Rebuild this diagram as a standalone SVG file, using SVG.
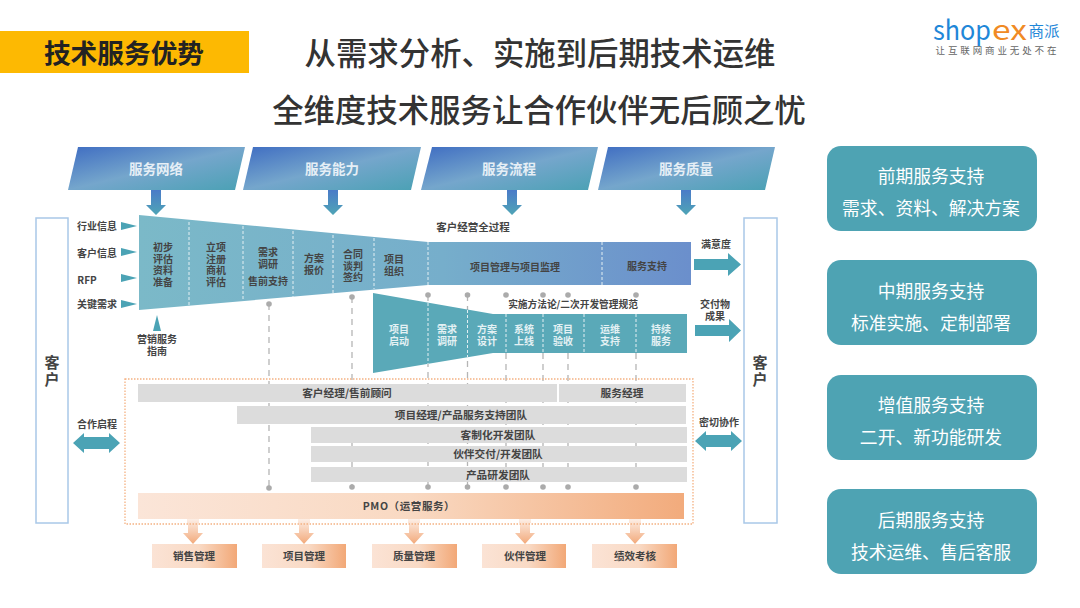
<svg xmlns="http://www.w3.org/2000/svg" width="1080" height="608" viewBox="0 0 1080 608">
<style>
text{font-family:"Noto Sans CJK SC","Liberation Sans",sans-serif;text-anchor:middle;dominant-baseline:central}
.l{font-size:10px;font-weight:700;fill:#444}
.w{font-size:10px;font-weight:700;fill:#e4f1f4}
.m{font-size:10.5px;font-weight:700;fill:#444}
.r{font-size:10.7px;font-weight:700;fill:#444}
.b{font-size:13.5px;font-weight:700;fill:#e6eff6}
.c{font-size:15px;font-weight:700;fill:#444}
.t{font-size:31.4px;font-weight:500;fill:#333}
.k{font-size:17.8px;fill:#fff}
.sep{stroke:#e3eff3;stroke-width:1;stroke-dasharray:3 2;fill:none}
.dl{stroke:#b5b5b5;stroke-width:1.300;stroke-dasharray:6 5;fill:none}
.dot{fill:#ababab}
.bar{fill:#dcdcdc}
.client{fill:#fff;stroke:#a9c8e8;stroke-width:1.500}
.card{fill:#4ea3b3}
.teal{fill:#4ba3b5}
.dn{fill:url(#gDown)}
.od{fill:url(#gOD)}
.bx{fill:url(#gBox)}
.ban{fill:url(#gBan)}
</style>
<defs>
<linearGradient id="gBan" x1="0" y1="0" x2="1" y2="1"><stop offset="0" stop-color="#3f6dc2"/><stop offset=".5" stop-color="#75a6cc"/><stop offset="1" stop-color="#4aa1b4"/></linearGradient>
<linearGradient id="gDown" x1="0" y1="0" x2="0" y2="1"><stop offset="0" stop-color="#4a7bc8"/><stop offset="1" stop-color="#4fa5b6"/></linearGradient>
<linearGradient id="gF1" x1="0" y1="0" x2="1" y2="0"><stop offset="0" stop-color="#7bb9c8"/><stop offset=".55" stop-color="#76aecb"/><stop offset="1" stop-color="#6b8fcc"/></linearGradient>
<linearGradient id="gPmo" x1="0" y1="0" x2="1" y2="0"><stop offset="0" stop-color="#fbe5d8"/><stop offset=".5" stop-color="#f9d9c2"/><stop offset="1" stop-color="#f2ab7c"/></linearGradient>
<linearGradient id="gBox" x1="0" y1="0" x2="1" y2="0"><stop offset="0" stop-color="#fbe3d5"/><stop offset=".55" stop-color="#f9dac5"/><stop offset="1" stop-color="#f2a877"/></linearGradient>
<linearGradient id="gOD" x1="0" y1="0" x2="0" y2="1"><stop offset="0" stop-color="#fdf1ea"/><stop offset="1" stop-color="#f2a97a"/></linearGradient>
</defs>
<rect width="1080" height="608" fill="#fff"/>

<g id="header">
<rect x="0" y="31" width="249" height="42" fill="#fdb902"/>
<text x="124" y="51" font-size="26.700" font-weight="700" fill="#222">技术服务优势</text>
<text class="t" x="540" y="51">从需求分析、实施到后期技术运维</text>
<text class="t" x="539" y="108">全维度技术服务让合作伙伴无后顾之忧</text>
</g>

<g id="logo">
<text x="933" y="28" style="text-anchor:start" font-size="27" fill="#1f87d8" textLength="58" lengthAdjust="spacingAndGlyphs">shop</text>
<text x="992" y="28" style="text-anchor:start" font-size="27" fill="#f08a24" textLength="35" lengthAdjust="spacingAndGlyphs">ex</text>
<text x="1044" y="30" font-size="15.500" fill="#1f87d8">商派</text>
<text x="996" y="50" font-size="9.500" fill="#666" textLength="121">让互联网商业无处不在</text>
</g>

<g id="connectors">
<path class="dl" d="M269 304V487M352 297V487M428 295V487M467.500 295V487M506 353V487M543 353V487M568 353V487M636 353V487"/>
<g class="dot">
<circle cx="269" cy="304" r="2.800"/><circle cx="352" cy="297" r="2.800"/><circle cx="428" cy="295" r="2.800"/><circle cx="467.500" cy="295" r="2.800"/><circle cx="506" cy="295" r="2.800"/><circle cx="543" cy="295" r="2.800"/><circle cx="568" cy="295" r="2.800"/><circle cx="636" cy="295" r="2.800"/>
<circle cx="269" cy="488" r="2.800"/><circle cx="352" cy="487" r="2.800"/><circle cx="428" cy="487" r="2.800"/><circle cx="467.500" cy="487" r="2.800"/><circle cx="506" cy="487" r="2.800"/><circle cx="543" cy="487" r="2.800"/><circle cx="568" cy="487" r="2.800"/><circle cx="636" cy="487" r="2.800"/>
</g>
<g class="dn">
<path d="M151 190H161V205H166L156 215L146 205H151Z"/>
<path d="M328 190H338V205H343L333 215L323 205H328Z"/>
<path d="M507 190H517V205H522L512 215L502 205H507Z"/>
<path d="M681 190H691V205H696L686 215L676 205H681Z"/>
</g>
<g class="teal">
<path d="M121 222L137 226L121 230Z"/>
<path d="M121 248L137 252L121 256Z"/>
<path d="M121 274L137 278L121 282Z"/>
<path d="M121 300L137 304L121 308Z"/>
<path d="M153 331L157 315L161 331Z"/>
<path d="M694 259H728V253L741 264.500L728 276V270H694Z"/>
<path d="M695 325H729V319L741 330.500L729 342V336H695Z"/>
<path d="M73 443L84 433V437H109V433L120 443L109 453V449H84V453Z"/>
<path d="M695 441L706 431V435H731V431L742 441L731 451V447H706V451Z"/>
</g>
<g class="od">
<path d="M187 518H199V523H198V533H203L193 544L183 533H188V523H187Z"/>
<path d="M298 518H310V523H309V533H314L304 544L294 533H299V523H298Z"/>
<path d="M408 518H420V523H419V533H424L414 544L404 533H409V523H408Z"/>
<path d="M519 518H531V523H530V533H535L525 544L515 533H520V523H519Z"/>
<path d="M629 518H641V523H640V533H645L635 544L625 533H630V523H629Z"/>
</g>
</g>

<g id="banners">
<g id="banner1"><path class="ban" d="M78 147H245L235 190H68Z"/><text class="b" x="156" y="168">服务网络</text></g>
<g id="banner2"><path class="ban" d="M253 147H421L411 190H243Z"/><text class="b" x="332" y="168">服务能力</text></g>
<g id="banner3"><path class="ban" d="M432 147H598L588 190H421Z"/><text class="b" x="509" y="168">服务流程</text></g>
<g id="banner4"><path class="ban" d="M608 147H775L765 190H598Z"/><text class="b" x="686" y="168">服务质量</text></g>
</g>

<g id="client-left"><rect class="client" x="36" y="218" width="32" height="305"/><text class="c" y="361"><tspan x="52">客</tspan><tspan x="52" dy="17">户</tspan></text></g>
<g id="client-right"><rect class="client" x="744" y="218" width="33" height="305"/><text class="c" y="361"><tspan x="760">客</tspan><tspan x="760" dy="17">户</tspan></text></g>

<g id="inputs">
<text class="l" x="97" y="225">行业信息</text>
<text class="l" x="97" y="252">客户信息</text>
<text class="l" x="87" y="279">RFP</text>
<text class="l" x="97" y="303">关键需求</text>
<text class="l" y="338"><tspan x="157">营销服务</tspan><tspan x="157" dy="12">指南</tspan></text>
</g>

<g id="funnel-top">
<path d="M139 215L428 242H691V285H428L139 310Z" fill="url(#gF1)"/>
<path class="sep" d="M189 222V305M243 226V301M293 231V297M333 235V293M374 238V289M428 242V285M602 242V285"/>
<text class="l" y="246"><tspan x="163">初步</tspan><tspan x="163" dy="11.700">评估</tspan><tspan x="163" dy="11.700">资料</tspan><tspan x="163" dy="11.700">准备</tspan></text>
<text class="l" y="246"><tspan x="216">立项</tspan><tspan x="216" dy="11.700">注册</tspan><tspan x="216" dy="11.700">商机</tspan><tspan x="216" dy="11.700">评估</tspan></text>
<text class="l" y="251"><tspan x="268">需求</tspan><tspan x="268" dy="11.500">调研</tspan><tspan x="268" dy="17.500">售前支持</tspan></text>
<text class="l" y="257"><tspan x="314">方案</tspan><tspan x="314" dy="11.700">报价</tspan></text>
<text class="l" y="253"><tspan x="353">合同</tspan><tspan x="353" dy="11.500">谈判</tspan><tspan x="353" dy="11.500">签约</tspan></text>
<text class="l" y="258"><tspan x="394">项目</tspan><tspan x="394" dy="11.500">组织</tspan></text>
<text class="l" x="515" y="266">项目管理与项目监理</text>
<text class="l" x="647" y="265">服务支持</text>
<text class="m" x="473" y="226">客户经营全过程</text>
<text class="l" x="716" y="243">满意度</text>
</g>

<g id="funnel-bottom">
<path d="M373 293L493 314H687V353H493L373 373Z" fill="#5aa9b8"/>
<path class="sep" d="M428 303V364M467.500 310V357M506 314V353M543 314V353M584 314V353M636 314V353"/>
<text class="w" y="328"><tspan x="399">项目</tspan><tspan x="399" dy="11.500">启动</tspan></text>
<text class="w" y="328"><tspan x="447">需求</tspan><tspan x="447" dy="11.500">调研</tspan></text>
<text class="w" y="328"><tspan x="487">方案</tspan><tspan x="487" dy="11.500">设计</tspan></text>
<text class="w" y="328"><tspan x="524">系统</tspan><tspan x="524" dy="11.500">上线</tspan></text>
<text class="w" y="328"><tspan x="563">项目</tspan><tspan x="563" dy="11.500">验收</tspan></text>
<text class="w" y="328"><tspan x="610">运维</tspan><tspan x="610" dy="11.500">支持</tspan></text>
<text class="w" y="328"><tspan x="661">持续</tspan><tspan x="661" dy="11.500">服务</tspan></text>
<text class="l" x="573" y="304" style="font-size:9.700px">实施方法论/二次开发管理规范</text>
<text class="l" y="303"><tspan x="715">交付物</tspan><tspan x="715" dy="12">成果</tspan></text>
</g>

<g id="teams">
<rect x="125" y="379" width="568" height="145" fill="none" stroke="#f4b183" stroke-width="1.300" stroke-dasharray="1.500 1.500"/>
<g id="team1"><rect class="bar" x="138" y="384" width="419" height="18"/><text class="r" x="347" y="392">客户经理/售前顾问</text></g>
<g id="team1b"><rect class="bar" x="559" y="384" width="127" height="18"/><text class="r" x="622" y="392">服务经理</text></g>
<g id="team2"><rect class="bar" x="237" y="406" width="449" height="18"/><text class="r" x="461" y="414">项目经理/产品服务支持团队</text></g>
<g id="team3"><rect class="bar" x="311" y="427" width="376" height="16"/><text class="r" x="498" y="434.500">客制化开发团队</text></g>
<g id="team4"><rect class="bar" x="311" y="446" width="376" height="16"/><text class="r" x="498" y="453">伙伴交付/开发团队</text></g>
<g id="team5"><rect class="bar" x="311" y="467" width="376" height="15"/><text class="r" x="498" y="474">产品研发团队</text></g>
<g id="pmo"><rect x="138" y="493" width="546" height="26" fill="url(#gPmo)"/><text class="m" x="409" y="505" style="letter-spacing:.6px">PMO（运营服务）</text></g>
</g>

<g id="side-labels">
<text class="l" x="97" y="423">合作启程</text>
<text class="l" x="719" y="421">密切协作</text>
</g>

<g id="mgmt">
<g id="m1"><rect class="bx" x="152" y="544" width="85" height="24"/><text class="m" x="194" y="555">销售管理</text></g>
<g id="m2"><rect class="bx" x="262" y="544" width="84" height="24"/><text class="m" x="304" y="555">项目管理</text></g>
<g id="m3"><rect class="bx" x="372" y="544" width="85" height="24"/><text class="m" x="414" y="555">质量管理</text></g>
<g id="m4"><rect class="bx" x="482" y="544" width="84" height="24"/><text class="m" x="525" y="555">伙伴管理</text></g>
<g id="m5"><rect class="bx" x="592" y="544" width="85" height="24"/><text class="m" x="635" y="555">绩效考核</text></g>
</g>

<g id="card1"><rect class="card" x="827" y="146" width="210" height="85" rx="14"/><text class="k" x="931" y="174.500">前期服务支持</text><text class="k" x="931" y="206.500">需求、资料、解决方案</text></g>
<g id="card2"><rect class="card" x="827" y="260" width="210" height="85" rx="14"/><text class="k" x="931" y="289.500">中期服务支持</text><text class="k" x="931" y="321.500">标准实施、定制部署</text></g>
<g id="card3"><rect class="card" x="827" y="375" width="210" height="85" rx="14"/><text class="k" x="931" y="403.500">增值服务支持</text><text class="k" x="931" y="435.500">二开、新功能研发</text></g>
<g id="card4"><rect class="card" x="827" y="489" width="210" height="85" rx="14"/><text class="k" x="931" y="518.500">后期服务支持</text><text class="k" x="931" y="550.500">技术运维、售后客服</text></g>
</svg>
